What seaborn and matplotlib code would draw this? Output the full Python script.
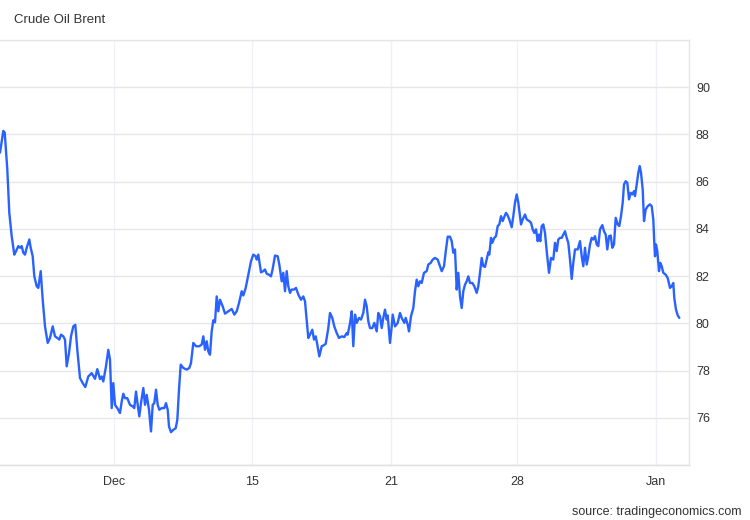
import matplotlib
matplotlib.use("Agg")
import matplotlib.pyplot as plt
import seaborn as sns
import pandas as pd

# ---- data (sample position along the session timeline, price in USD/bbl) ----
t = [0, 3.3, 4.7, 7.3, 9.3, 11.7, 14.3, 16, 18.3, 20, 21.7, 23.3, 25, 26.7, 29.3, 30.7, 32.7,
     34.3, 36.7, 38.3, 40.7, 42.7, 45, 47.7, 50, 52.7, 55, 57.3, 59.3, 61, 63.3, 65, 66.7, 69,
     71, 73.3, 75.3, 77.3, 80, 82.7, 85.3, 88.3, 91.7, 95, 97.3, 100, 101.7, 103.3, 106, 108.3,
     110, 111.7, 113.3, 115, 117.3, 120, 121.7, 123.3, 125, 127.3, 130, 132.7, 134.3, 136,
     137.7, 139.3, 141, 143.3, 145, 146.7, 149, 151, 152.7, 154.3, 156, 157.7, 159.3, 161.7,
     164.3, 166, 167.7, 169, 171, 173.3, 175.7, 177.3, 179, 180.7, 183.3, 186.7, 189.3, 191,
     193.3, 196, 199.3, 201.7, 203.3, 205, 206.7, 208.3, 210, 211.7, 213.3, 215, 216.7, 218.3,
     220, 222.7, 225, 228.3, 231.7, 234.3, 236.7, 239, 241.7, 243.3, 245.7, 248.3, 251, 253.3,
     255.7, 256.7, 258.3, 261, 263.3, 265, 266.7, 269, 271, 272.7, 275, 277.7, 279.3, 281.7,
     283.3, 285, 286.7, 288.3, 290, 291.7, 294, 296, 298.3, 301, 303.3, 305, 306.7, 308.3, 310,
     312.3, 314, 315.7, 317.3, 319.3, 321.7, 323.3, 325.7, 328.3, 330, 332.3, 334.3, 336.7, 339,
     341.7, 344.3, 346.7, 347.7, 350, 351.7, 353.3, 355, 356.7, 359, 361, 363.3, 365, 366.7,
     368.3, 370, 372.3, 374.3, 376.7, 378.3, 380, 381.7, 383.3, 385, 386.7, 387.7, 390, 391.7,
     392.7, 395, 397.7, 400, 401.7, 404.3, 405.7, 407.7, 409, 411, 413.3, 415, 416.7, 418.3,
     420, 421.7, 424, 426.7, 428.3, 430.7, 432.7, 435, 437.7, 440, 441.7, 444, 446, 447.7, 450,
     451.7, 453.3, 455, 456.7, 458.3, 460, 461.7, 463.3, 465, 466.7, 468.3, 470, 472.3, 474.3,
     476.7, 478.3, 480, 481.7, 483.3, 485, 486.7, 488.3, 489.3, 491, 492.3, 494.3, 496, 497.7,
     499.3, 501, 502.7, 504.3, 506, 507.7, 509.3, 511.7, 513.3, 515, 516.7, 518.3, 521, 522.7,
     525, 526.7, 529.3, 531, 532.7, 534.3, 536, 537.7, 539, 540.3, 541.7, 543.3, 545, 546.7,
     549, 551, 553.3, 555, 556.7, 558.3, 560, 561.7, 563.3, 565, 566.7, 568.3, 570, 571.7,
     573.3, 575, 577.7, 580, 581.7, 583.3, 585, 586.7, 588.3, 590, 591.7, 593.3, 595, 596.7,
     598.3, 600, 602.3, 604, 605.7, 607.3, 609, 610.7, 612.3, 614, 615.7, 617.7, 619.3, 621,
     622.7, 624, 625.7, 627.3, 629, 630.7, 632.3, 634, 635, 636.7, 638.3, 639.7, 641, 642.7,
     644, 645.7, 647.7, 650, 651.7, 653.3, 654.3, 655, 656, 657.3, 659, 660.3, 661.7, 663.3,
     665.7, 667.7, 670, 671.7, 673.3, 674.3, 676, 677.7, 679.3]

price = [87.23, 88.15, 88.08, 86.52, 84.68, 83.69, 82.91, 83.05, 83.27, 83.2, 83.27, 82.99,
         82.91, 83.2, 83.55, 83.2, 82.84, 81.99, 81.57, 81.5, 82.21, 81.0, 79.87, 79.17, 79.38,
         79.87, 79.45, 79.38, 79.31, 79.52, 79.45, 79.31, 78.18, 78.74, 79.45, 79.87, 79.94,
         78.88, 77.68, 77.47, 77.3, 77.75, 77.89, 77.65, 78.06, 77.64, 77.75, 77.54, 78.18,
         78.88, 78.46, 76.41, 77.47, 76.55, 76.41, 76.2, 76.69, 77.02, 76.83, 76.83, 76.55,
         76.48, 76.41, 77.11, 76.55, 76.06, 76.62, 77.26, 76.55, 76.97, 76.34, 75.42, 76.55,
         76.62, 77.19, 76.55, 76.34, 76.41, 76.41, 76.62, 76.34, 75.63, 75.39, 75.49, 75.56,
         75.91, 77.19, 78.25, 78.11, 78.04, 78.11, 78.32, 79.17, 79.03, 79.03, 79.10, 79.45,
         78.88, 79.24, 78.81, 78.67, 79.66, 80.13, 80.04, 81.14, 80.51, 81.0, 80.72, 80.41,
         80.51, 80.61, 80.37, 80.51, 80.86, 81.36, 81.18, 81.5, 82.06, 82.63, 82.91, 82.84,
         82.7, 82.91, 82.16, 82.21, 82.28, 82.1, 82.06, 81.99, 82.31, 82.87, 82.84, 82.49,
         81.78, 82.14, 81.36, 82.21, 81.57, 81.29, 81.43, 81.43, 81.5, 81.22, 81.0, 81.14,
         80.93, 80.13, 79.38, 79.52, 79.73, 79.31, 79.45, 79.1, 78.6, 79.03, 79.06, 79.13,
         79.8, 80.44, 80.23, 79.87, 79.59, 79.38, 79.45, 79.42, 79.59, 79.52, 80.0, 80.51,
         79.03, 80.37, 80.02, 80.23, 80.16, 80.44, 81.0, 80.72, 80.09, 79.8, 79.8, 80.02,
         79.66, 80.44, 80.3, 79.8, 80.23, 80.58, 80.16, 80.33, 79.17, 79.87, 80.37, 79.87,
         80.02, 80.44, 80.23, 80.02, 80.23, 79.94, 79.66, 80.3, 80.65, 81.36, 81.85, 81.57,
         81.78, 81.71, 82.14, 82.21, 82.49, 82.56, 82.7, 82.77, 82.7, 82.42, 82.21, 82.42,
         83.13, 83.67, 83.67, 83.48, 82.99, 83.13, 81.43, 82.14, 81.14, 80.65, 81.36, 81.64,
         81.78, 81.99, 81.71, 81.71, 81.57, 81.29, 81.57, 82.14, 82.77, 82.42, 82.39, 82.7,
         83.01, 82.91, 83.62, 83.41, 83.62, 83.69, 84.12, 84.19, 84.54, 84.33, 84.51, 84.68,
         84.57, 84.4, 84.07, 84.54, 85.11, 85.46, 85.11, 84.19, 84.4, 84.61, 84.4, 84.33,
         84.26, 83.98, 83.83, 83.98, 83.48, 83.76, 83.48, 84.12, 84.19, 83.83, 83.06, 82.14,
         82.77, 82.7, 83.41, 83.06, 83.55, 83.62, 83.62, 83.76, 83.9, 83.62, 83.41, 82.7,
         81.88, 82.56, 83.13, 83.13, 83.48, 82.84, 82.42, 83.2, 82.49, 82.84, 83.34, 83.62,
         83.55, 83.69, 83.34, 83.27, 83.98, 84.16, 83.9, 83.76, 83.13, 83.69, 83.72, 83.2,
         83.34, 84.47, 84.19, 84.12, 84.54, 85.11, 85.88, 86.02, 85.95, 85.25, 85.53, 85.46,
         85.6, 85.39, 85.88, 86.38, 86.66, 86.38, 85.67, 84.33, 84.82, 84.96, 85.04, 84.96,
         84.4, 83.41, 82.84, 83.34, 83.06, 82.21, 82.56, 82.42, 82.14, 82.06, 81.92, 81.5,
         81.57, 81.71, 81.07, 80.58, 80.34, 80.23]

x_tick_pos = [114, 252, 391, 517, 656]
x_tick_labels = ["Dec", "15", "21", "28", "Jan"]
y_ticks = [74, 76, 78, 80, 82, 84, 86, 88, 90, 92]
y_tick_labels = ["", "76", "78", "80", "82", "84", "86", "88", "90", ""]

df = pd.DataFrame({"t": t, "price": price})

sns.set_theme(style="white")
plt.rcParams["font.family"] = ["Liberation Sans", "DejaVu Sans"]

W, H = 750, 520
fig = plt.figure(figsize=(W / 100, H / 100), dpi=100)
ax = fig.add_axes([0, 1 - 465 / H, 689 / W, 425 / H])

sns.lineplot(data=df, x="t", y="price", ax=ax, color="#2962ff", linewidth=1.7, zorder=3)

ax.set_xlim(0, 689)
ax.set_ylim(74, 92)
ax.set_xticks(x_tick_pos)
ax.set_xticklabels(x_tick_labels)
ax.set_yticks(y_ticks)
ax.set_yticklabels(y_tick_labels)
ax.yaxis.tick_right()
ax.set_xlabel("")
ax.set_ylabel("")

ax.tick_params(axis="both", length=0, labelsize=9, labelcolor="#333333")
ax.tick_params(axis="y", pad=5)
ax.tick_params(axis="x", pad=8)

ax.grid(axis="y", color="#e6e6e6", linewidth=1.0)
ax.grid(axis="x", color="#edf1f6", linewidth=1.0)

ax.spines["left"].set_visible(False)
ax.spines["top"].set_color("#e6e6e6")
ax.spines["right"].set_color("#e0e6ee")
ax.spines["bottom"].set_color("#e0e0e0")
for s in ["top", "right", "bottom"]:
    ax.spines[s].set_linewidth(1.0)

fig.text(14 / W, 1 - 20 / H, "Crude Oil Brent", fontsize=9.5, color="#333333",
         ha="left", va="center")
fig.text(742 / W, 1 - 512 / H, "source: tradingeconomics.com", fontsize=9,
         color="#333333", ha="right", va="center")

fig.savefig("out.png", dpi=100)
